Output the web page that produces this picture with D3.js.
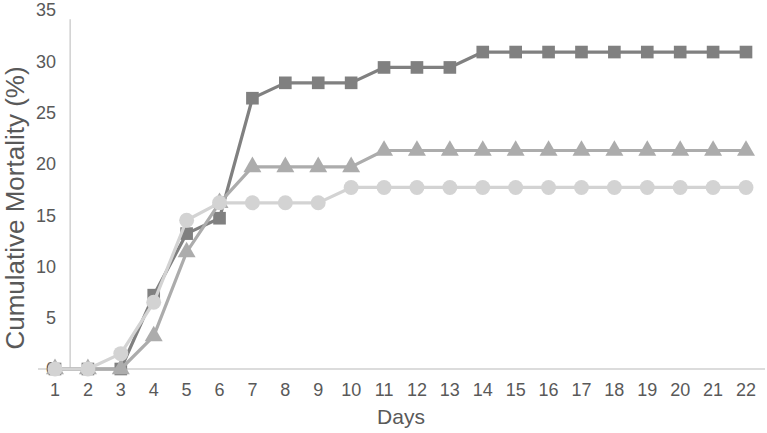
<!DOCTYPE html>
<html>
<head>
<meta charset="utf-8">
<script src="https://cdn.jsdelivr.net/npm/d3@7"></script>
<style>
  body { margin: 0; background: #fff; }
  text { font-family: "Liberation Sans", Arial, sans-serif; fill: #595959; }
</style>
</head>
<body>
<script>
// chart data
var days = d3.range(1, 23);
var seriesSquare   = [0, 0, 0, 7.2, 13.2, 14.7, 26.4, 27.9, 27.9, 27.9, 29.4, 29.4, 29.4, 30.9, 30.9, 30.9, 30.9, 30.9, 30.9, 30.9, 30.9, 30.9];
var seriesTriangle = [0, 0, 0, 3.2, 11.4, 16.2, 19.7, 19.7, 19.7, 19.7, 21.3, 21.3, 21.3, 21.3, 21.3, 21.3, 21.3, 21.3, 21.3, 21.3, 21.3, 21.3];
var seriesCircle   = [0, 0, 1.5, 6.5, 14.5, 16.2, 16.2, 16.2, 16.2, 17.7, 17.7, 17.7, 17.7, 17.7, 17.7, 17.7, 17.7, 17.7, 17.7, 17.7, 17.7, 17.7];
var yTicks = [0, 5, 10, 15, 20, 25, 30, 35];

var width = 767, height = 433;

var svg = d3.select("body").append("svg")
    .attr("width", width)
    .attr("height", height);

// scales
var x = d3.scaleLinear().domain([1, 22]).range([55, 746]);
var y = d3.scaleLinear().domain([0, 35]).range([369, 10]);

// horizontal axis line
svg.append("line")
  .attr("x1", 38).attr("x2", 765)
  .attr("y1", y(0)).attr("y2", y(0))
  .attr("stroke", "#d0d0d0").attr("stroke-width", 1.3);

// vertical axis line
svg.append("line")
  .attr("x1", x(1.46)).attr("x2", x(1.46))
  .attr("y1", y(34.1)).attr("y2", y(0))
  .attr("stroke", "#c8c8c8").attr("stroke-width", 1.3);

// y tick labels
svg.selectAll(".ytick")
  .data(yTicks)
  .enter().append("text")
  .attr("class", "ytick")
  .attr("x", 56)
  .attr("y", function(d) { return y(d); })
  .attr("dy", "0.36em")
  .attr("text-anchor", "end")
  .style("font-size", "18px")
  .text(function(d) { return d; });

// x tick labels
svg.selectAll(".xtick")
  .data(days)
  .enter().append("text")
  .attr("class", "xtick")
  .attr("x", function(d) { return x(d); })
  .attr("y", 396)
  .attr("text-anchor", "middle")
  .style("font-size", "18px")
  .text(function(d) { return d; });

// axis titles
svg.append("text")
  .attr("x", 401)
  .attr("y", 424)
  .attr("text-anchor", "middle")
  .style("font-size", "21px")
  .text("Days");

svg.append("text")
  .attr("transform", "translate(24,208) rotate(-90)")
  .attr("text-anchor", "middle")
  .style("font-size", "26px")
  .text("Cumulative Mortality (%)");

var line = d3.line()
  .x(function(d, i) { return x(days[i]); })
  .y(function(d) { return y(d); });

var series = [
  { values: seriesSquare, color: "#808080", shape: d3.symbolSquare, size: 160 },
  { values: seriesTriangle, color: "#acacac", shape: d3.symbolTriangle, size: 140 },
  { values: seriesCircle, color: "#d3d3d3", shape: d3.symbolCircle, size: 175 }
];

series.forEach(function(s) {
  svg.append("path")
    .datum(s.values)
    .attr("fill", "none")
    .attr("stroke", s.color)
    .attr("stroke-width", 3.2)
    .attr("stroke-linejoin", "round")
    .attr("d", line);

  svg.selectAll(null)
    .data(s.values)
    .enter().append("path")
    .attr("transform", function(d, i) { return "translate(" + x(days[i]) + "," + y(d) + ")"; })
    .attr("d", d3.symbol().type(s.shape).size(s.size))
    .attr("fill", s.color);
});
</script>
</body>
</html>
